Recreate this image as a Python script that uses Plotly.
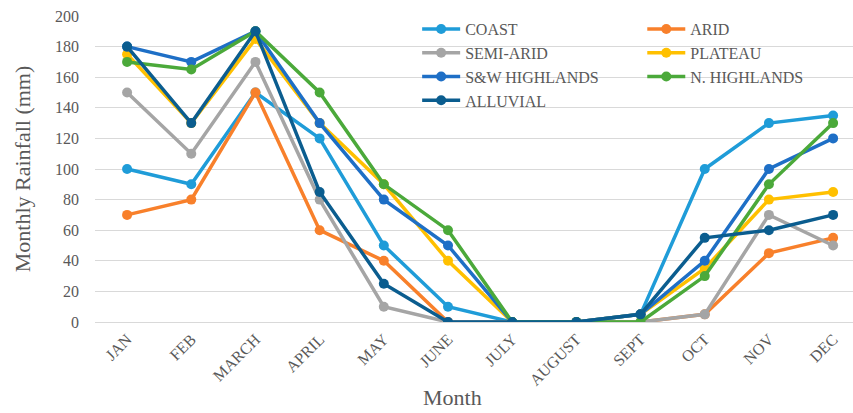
import plotly.graph_objects as go

# Month categories along the x axis
months = ["JAN", "FEB", "MARCH", "APRIL", "MAY", "JUNE", "JULY",
          "AUGUST", "SEPT", "OCT", "NOV", "DEC"]

# Monthly rainfall (mm) per climatic zone
coast = [100, 90, 150, 120, 50, 10, 0, 0, 5, 100, 130, 135]
arid = [70, 80, 150, 60, 40, 0, 0, 0, 0, 5, 45, 55]
semi_arid = [150, 110, 170, 80, 10, 0, 0, 0, 0, 5, 70, 50]
plateau = [175, 130, 185, 130, 90, 40, 0, 0, 5, 35, 80, 85]
sw_highlands = [180, 170, 190, 130, 80, 50, 0, 0, 5, 40, 100, 120]
n_highlands = [170, 165, 190, 150, 90, 60, 0, 0, 0, 30, 90, 130]
alluvial = [180, 130, 190, 85, 25, 0, 0, 0, 5, 55, 60, 70]

# (name, values, colour, legend column)
series = [
    ("COAST", coast, "#1F9CD8", "legend"),
    ("ARID", arid, "#F8802B", "legend2"),
    ("SEMI-ARID", semi_arid, "#A5A5A5", "legend"),
    ("PLATEAU", plateau, "#FFC000", "legend2"),
    ("S&W HIGHLANDS", sw_highlands, "#1E6FC6", "legend"),
    ("N. HIGHLANDS", n_highlands, "#4BA93A", "legend2"),
    ("ALLUVIAL", alluvial, "#0B5D8F", "legend"),
]

fig = go.Figure()
for name, values, color, leg in series:
    fig.add_trace(go.Scatter(
        x=months, y=values, name=name, mode="lines+markers",
        line=dict(color=color, width=3.5),
        marker=dict(color=color, size=10),
        legend=leg,
    ))

serif = "Liberation Serif"
grey = "#595959"

legend_style = dict(
    orientation="v", y=1.013, xanchor="left", yanchor="top",
    bgcolor="rgba(0,0,0,0)", itemwidth=38,
    font=dict(family=serif, size=16, color=grey),
)

fig.update_layout(
    width=853, height=413,
    margin=dict(l=95, r=0, t=16, b=91),
    paper_bgcolor="white", plot_bgcolor="white",
    font=dict(family=serif, color=grey),
    showlegend=True,
    legend=dict(x=0.425, **legend_style),
    legend2=dict(x=0.722, **legend_style),
    xaxis=dict(
        range=[-0.5, 11.31], showgrid=False, showline=False, ticks="",
        tickangle=-45, tickfont=dict(family=serif, size=16, color=grey),
        ticklabelstandoff=4,
    ),
    yaxis=dict(
        range=[0, 200], dtick=20, showgrid=True, gridcolor="#D9D9D9",
        gridwidth=1, zeroline=True, zerolinecolor="#D9D9D9", zerolinewidth=1,
        showline=False, ticks="", tickfont=dict(family=serif, size=16, color=grey),
        ticklabelstandoff=15,
        title=dict(text="Monthly Rainfall (mm)",
                   font=dict(family=serif, size=22, color=grey), standoff=18),
    ),
    annotations=[dict(
        text="Month", xref="paper", yref="paper", x=0.472, y=-0.294,
        xanchor="center", yanchor="bottom", showarrow=False,
        font=dict(family=serif, size=22, color=grey),
    )],
)

fig.write_html("out.html")
